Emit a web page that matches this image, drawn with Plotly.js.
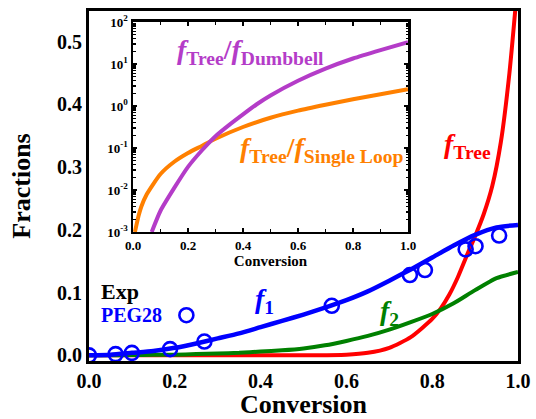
<!DOCTYPE html>
<html>
<head>
<meta charset="utf-8">
<script src="https://cdn.plot.ly/plotly-3.0.1.min.js"></script>
<style>html,body{margin:0;padding:0;background:#fff;}#chart{width:536px;height:419px;}</style>
</head>
<body>
<div id="chart"></div>
<script>
// ---- Main panel data ----
const f1X = [0,0.05,0.1,0.15,0.2,0.25,0.3,0.35,0.4,0.45,0.5,0.55,0.6,0.65,0.7,0.75,0.8,0.85,0.9,0.95,1.0];
const f1Y = [0,0.001,0.004,0.007,0.012,0.019,0.027,0.035,0.045,0.055,0.065,0.076,0.088,0.102,0.119,0.137,0.156,0.175,0.192,0.204,0.208];
const f2X = [0,0.05,0.1,0.15,0.2,0.25,0.3,0.35,0.4,0.45,0.5,0.55,0.6,0.65,0.7,0.75,0.8,0.85,0.9,0.95,1.0];
const f2Y = [0,0.0002,0.0005,0.0008,0.001,0.002,0.003,0.004,0.006,0.008,0.011,0.016,0.023,0.031,0.041,0.053,0.066,0.083,0.104,0.123,0.133];
const fTreeX = [0,0.5,0.6,0.65,0.7,0.75,0.8,0.82,0.84,0.86,0.88,0.9,0.92,0.94,0.96,0.98,1.0];
const fTreeY = [0,0,0.001,0.004,0.012,0.029,0.058,0.075,0.097,0.125,0.158,0.19,0.225,0.27,0.34,0.45,0.60];
const expX = [0,0.062,0.1,0.189,0.227,0.269,0.566,0.748,0.783,0.878,0.901,0.956];
const expY = [0,0.002,0.004,0.010,0.064,0.022,0.079,0.128,0.136,0.169,0.174,0.191];

// ---- Inset data ----
const loopX = [0.007,0.02,0.03,0.05,0.1,0.15,0.2,0.25,0.3,0.4,0.5,0.6,0.7,0.8,0.9,1.0];
const loopY = [0.001,0.0024,0.004,0.0079,0.024,0.047,0.0759,0.112,0.166,0.316,0.525,0.776,1.07,1.45,1.91,2.51];
const dumbX = [0.068,0.1,0.15,0.2,0.25,0.3,0.35,0.4,0.45,0.5,0.6,0.7,0.8,0.9,1.0];
const dumbY = [0.001,0.0032,0.0112,0.0355,0.0871,0.191,0.355,0.631,1.10,1.78,3.98,7.76,13.5,21.4,33.1];

const insetTickVals = [0.001,0.01,0.1,1,10,100];
const insetTickText = ['10<sup>-3</sup>','10<sup>-2</sup>','10<sup>-1</sup>','10<sup>0</sup>','10<sup>1</sup>','10<sup>2</sup>'];
const insetMinor = [];
for (let e = -3; e < 2; e++) for (let m = 2; m <= 9; m++) insetMinor.push(m * Math.pow(10, e));

const FONT = 'Liberation Serif';
const C = {red:'#FF0000', blue:'#0000FF', green:'#008000', orange:'#FF8000', purple:'#B43CC8'};

const traces = [
  {x:fTreeX, y:fTreeY, mode:'lines', line:{color:C.red, width:4, shape:'spline', smoothing:0.6}, xaxis:'x', yaxis:'y'},
  {x:f2X, y:f2Y, mode:'lines', line:{color:C.green, width:4, shape:'spline', smoothing:0.6}, xaxis:'x', yaxis:'y'},
  {x:f1X, y:f1Y, mode:'lines', line:{color:C.blue, width:4.5, shape:'spline', smoothing:0.6}, xaxis:'x', yaxis:'y'},
  {x:expX, y:expY, mode:'markers', marker:{symbol:'circle-open', size:14, color:C.blue, line:{width:2.6, color:C.blue}}, xaxis:'x', yaxis:'y'},
  {x:loopX, y:loopY, mode:'lines', line:{color:C.orange, width:4, shape:'spline', smoothing:0.6}, xaxis:'x2', yaxis:'y2'},
  {x:dumbX, y:dumbY, mode:'lines', line:{color:C.purple, width:4, shape:'spline', smoothing:0.6}, xaxis:'x2', yaxis:'y2'}
];

const tf = (s) => ({family:FONT, size:s, color:'#000', weight:'bold'});
const XR = [0,1], YR = [-0.009,0.549];

const layout = {
  width:536, height:419,
  margin:{l:89, r:18, t:11, b:58, pad:0},
  paper_bgcolor:'#fff', plot_bgcolor:'#fff',
  showlegend:false,
  font:{family:FONT, color:'#000'},
  // main axes: labels + box line (ticks drawn by overlay axes)
  xaxis:{domain:[0,1], anchor:'y', range:XR, showline:true, linewidth:3, linecolor:'#000', mirror:true,
    ticks:'', tick0:0, dtick:0.2, tickformat:'.1f',
    tickfont:tf(20), showgrid:false, zeroline:false,
    title:{text:'Conversion', font:tf(26), standoff:12}},
  yaxis:{domain:[0,1], anchor:'x', range:YR, showline:true, linewidth:3, linecolor:'#000', mirror:true,
    ticks:'', tick0:0, dtick:0.1, tickformat:'.1f',
    tickfont:tf(20), showgrid:false, zeroline:false,
    title:{text:'Fractions', font:tf(26), standoff:19}},
  // outward ticks bottom/left
  xaxis4:{overlaying:'x', side:'bottom', anchor:'y', range:XR, ticks:'outside', ticklen:6, tickwidth:2, tickcolor:'#000',
    tick0:0, dtick:0.2, minor:{dtick:0.1, tick0:0, ticks:'outside', ticklen:4, tickwidth:2, tickcolor:'#000'},
    showticklabels:false, showline:false, showgrid:false, zeroline:false},
  yaxis4:{overlaying:'y', side:'left', anchor:'x', range:YR, ticks:'outside', ticklen:7, tickwidth:2, tickcolor:'#000',
    tick0:0, dtick:0.1, minor:{dtick:0.05, tick0:0, ticks:'outside', ticklen:4, tickwidth:2, tickcolor:'#000'},
    showticklabels:false, showline:false, showgrid:false, zeroline:false},
  // inward ticks top/right
  xaxis3:{overlaying:'x', side:'top', anchor:'y', range:XR, ticks:'inside', ticklen:4, tickwidth:2, tickcolor:'#000',
    tick0:0, dtick:0.1, showticklabels:false, showline:false, showgrid:false, zeroline:false},
  yaxis3:{overlaying:'y', side:'right', anchor:'x', range:YR, ticks:'inside', ticklen:4, tickwidth:2, tickcolor:'#000',
    tick0:0, dtick:0.05, showticklabels:false, showline:false, showgrid:false, zeroline:false},
  // inset
  xaxis2:{domain:[0.1026,0.7436], anchor:'y2', range:[0,1], showline:true, linewidth:2.5, linecolor:'#000', mirror:'allticks',
    ticks:'inside', ticklen:4, tickwidth:2, tickcolor:'#000', tick0:0, dtick:0.2, tickformat:'.1f',
    minor:{dtick:0.1, tick0:0, ticks:'inside', ticklen:3, tickwidth:1.5, tickcolor:'#000'},
    tickfont:tf(13), showgrid:false, zeroline:false,
    title:{text:'Conversion', font:tf(15), standoff:0}},
  yaxis2:{domain:[0.3686,0.9686], anchor:'x2', type:'log', range:[-3,2], showline:true, linewidth:2.5, linecolor:'#000', mirror:'allticks',
    ticks:'inside', ticklen:4, tickwidth:2, tickcolor:'#000', tickmode:'array', tickvals:insetTickVals, ticktext:insetTickText,
    minor:{tickmode:'array', tickvals:insetMinor, ticks:'inside', ticklen:2.5, tickwidth:1.5, tickcolor:'#000'},
    tickfont:tf(13), showgrid:false, zeroline:false},
  annotations:[
    {xref:'paper', yref:'paper', x:0.2005, y:0.884, xanchor:'left', yanchor:'middle', showarrow:false,
     text:'<i>f</i><sub>Tree</sub>/<i>f</i><sub>Dumbbell</sub>', font:{family:FONT, size:28, color:C.purple, weight:'bold'}},
    {xref:'paper', yref:'paper', x:0.347, y:0.603, xanchor:'left', yanchor:'middle', showarrow:false,
     text:'<i>f</i><sub>Tree</sub>/<i>f</i><sub>Single Loop</sub>', font:{family:FONT, size:28, color:C.orange, weight:'bold'}},
    {xref:'paper', yref:'paper', x:0.823, y:0.617, xanchor:'left', yanchor:'middle', showarrow:false,
     text:'<i>f</i><sub>Tree</sub>', font:{family:FONT, size:28, color:C.red, weight:'bold'}},
    {xref:'paper', yref:'paper', x:0.382, y:0.174, xanchor:'left', yanchor:'middle', showarrow:false,
     text:'<i>f</i><sub>1</sub>', font:{family:FONT, size:28, color:C.blue, weight:'bold'}},
    {xref:'paper', yref:'paper', x:0.674, y:0.14, xanchor:'left', yanchor:'middle', showarrow:false,
     text:'<i>f</i><sub>2</sub>', font:{family:FONT, size:28, color:C.green, weight:'bold'}},
    {xref:'paper', yref:'paper', x:0.072, y:0.2, xanchor:'center', yanchor:'middle', showarrow:false,
     text:'Exp', font:{family:FONT, size:22, color:'#000', weight:'bold'}},
    {xref:'paper', yref:'paper', x:0.098, y:0.131, xanchor:'center', yanchor:'middle', showarrow:false,
     text:'PEG28', font:{family:FONT, size:20, color:C.blue, weight:'bold'}}
  ]
};

Plotly.newPlot('chart', traces, layout, {displayModeBar:false, staticPlot:true});
</script>
</body>
</html>
